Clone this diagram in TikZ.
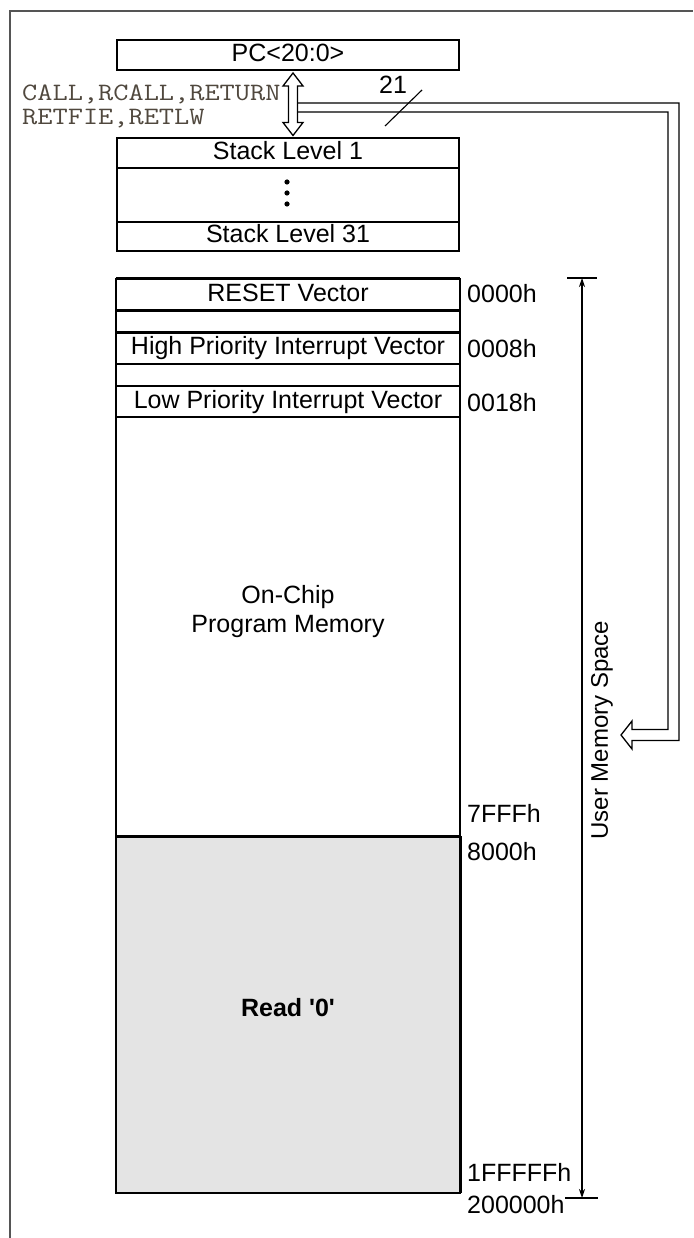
\documentclass[tikz,border=0pt]{standalone}
\usepackage{fontspec}
\setmainfont{Liberation Sans}
\usetikzlibrary{calc,arrows.meta}
\definecolor{memgray}{HTML}{E4E4E4}
\definecolor{codecol}{RGB}{80,72,62}
\definecolor{framecol}{HTML}{555555}
\newcommand{\lblfont}{\fontsize{25}{30}\selectfont}
\newcommand{\hexfont}{\fontsize{25}{30}\selectfont}
\begin{document}
\begin{tikzpicture}[x=1pt,y=-1pt,
  box/.style={draw, line width=1.4pt, minimum width=342, inner sep=0, outer sep=0, font=\lblfont, text height=18pt, text depth=5pt},
  mem/.style={draw, line width=1.4pt, minimum width=344, inner sep=0, outer sep=0, font=\lblfont, text height=18pt, text depth=5pt},
  hex/.style={anchor=west, inner sep=0, font=\hexfont},
  bus/.style={line width=1.3pt},
  code/.style={anchor=west, inner sep=0, xscale=1.18, font=\fontsize{25}{28}\ttfamily, text=codecol, text height=15pt, text depth=3pt}]
\useasboundingbox (0,0) rectangle (693,1238);
% outer frame (partly visible)
\draw[framecol, line width=1.8pt] (10,1238) -- (10,11) -- (693,11);

% PC and stack
\node[box, minimum height=30] (pc) at (288,55) {PC<20:0>};
\node[box, minimum height=30] (s1) at (288,153) {Stack Level 1};
\node[box, minimum height=54] (sd) at (288,195) {};
\node[box, minimum height=29] (s31) at (288,236.5) {Stack Level 31};
\foreach \yy in {182,193,204} \fill (287,\yy) circle (2.6);

% memory map
\node[mem, minimum height=32] (reset) at (288,295) {RESET Vector};
\node[mem, minimum height=21] (g1) at (288,321.5) {};
\node[mem, minimum height=32] (hi) at (288,348) {High Priority Interrupt Vector};
\node[mem, minimum height=22] (g2) at (288,375) {};
\node[mem, minimum height=31] (lo) at (288,401.5) {Low Priority Interrupt Vector};
\node[mem, minimum height=419] (oc) at (288,626.5) {};
\node[align=center, font=\lblfont, inner sep=0] (octxt) at (288,612) {On-Chip\\[-1pt]Program Memory};
\node[mem, minimum height=357, fill=memgray] (rd) at (288,1014.5) {};
\node[font=\lblfont\bfseries, inner sep=0] (rdtxt) at (288,1008) {Read \textquotesingle 0\textquotesingle};
\draw[line width=3pt] (reset.north west) -- (reset.north east);
\draw[line width=3pt] (rd.north west) -- (rd.north east);
\draw[line width=3pt] (rd.north east) -- (rd.south east);
\draw[line width=2.6pt] (g1.north east) -- (g1.south east);

% addresses
\node[hex] (a0) at (467,294) {0000h};
\node[hex] (a8) at (467,349) {0008h};
\node[hex] (a18) at (467,403) {0018h};
\node[hex] (a7f) at (467,813) {7FFFh};
\node[hex] (a80) at (467,852) {8000h};
\node[hex] (a1f) at (467,1172) {1FFFFFh};
\node[hex] (a20) at (467,1205) {200000h};

% user memory space dimension
\coordinate (dtop) at (582,278);
\coordinate (dbot) at (582,1198);
\draw[line width=1.2pt] (567,278) -- (597,278);
\draw[line width=1.2pt] (565,1198) -- (598,1198);
\draw[line width=1.2pt, {Stealth[length=9pt,width=6pt]}-{Stealth[length=9pt,width=6pt]}] (dtop) -- (dbot);
\node[rotate=90, font=\fontsize{24}{28}\selectfont, inner sep=0] (ums) at (602,730) {User Memory Space};

% instruction labels
\node[code] (c1) at (22,95) {CALL,RCALL,RETURN};
\node[code] (c2) at (22,119) {RETFIE,RETLW};

% double arrow between PC and stack
\coordinate (at) at ($(pc.south)+(5,3)$);
\coordinate (ab) at ($(s1.north)+(5,-2.5)$);
\draw[line width=1.3pt, fill=white, line join=miter]
  (at) -- ($(at)+(10,13)$) -- ($(at)+(4.5,13)$) -- ($(ab)+(4.5,-13)$) -- ($(ab)+(10,-13)$)
  -- (ab) -- ($(ab)+(-10,-13)$) -- ($(ab)+(-4.5,-13)$) -- ($(at)+(-4.5,13)$) -- ($(at)+(-10,13)$) -- cycle;

% 21-bit bus to memory
\coordinate (bustip) at (621,735);
\draw[bus, line join=miter]
  ($(at)+(4.5,30)$) -- (679,103) -- (679,740.5) -- (632,740.5) -- (632,749) -- (bustip)
  -- (632,721) -- (632,729.5) -- (668,729.5) -- (668,112) -- ($(at)+(4.5,39)$);
\draw[line width=1.1pt] (385,126) -- (422,90);
\node[font=\lblfont, inner sep=0] (n21) at (393,85) {21};
\end{tikzpicture}
\end{document}
